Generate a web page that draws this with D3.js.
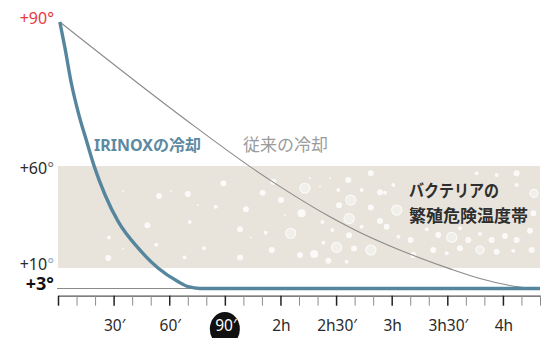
<!DOCTYPE html>
<html>
<head>
<meta charset="utf-8">
<script src="https://cdn.jsdelivr.net/npm/d3@7"></script>
<style>
  body { margin: 0; background: #fff; }
  svg { display: block; font-family: "Noto Sans", "Noto Sans CJK JP", sans-serif; }
</style>
</head>
<body>
<svg id="chart" width="542" height="338"></svg>
<script>
// time in minutes, temperature in degrees
const irinoxTime = [1, 3.8, 7, 11.3, 15.5, 19.6, 25.4, 32.5, 43.3, 54.1, 64.9, 70.3, 76.6, 120, 180, 260]
const irinoxTemp = [90, 84.5, 77.6, 70.6, 65.1, 59.7, 45.8, 32.7, 19.7, 9.9, 5.3, 3.6, 3, 3, 3, 3]

const classicTime = [1, 73.9, 103.6, 119.8, 146.7, 162.9, 179.1, 195.3, 211.5, 227.6, 243.8, 254.6]
const classicTemp = [90, 68.2, 59.7, 49.9, 35.1, 27.4, 20.8, 14.9, 9.7, 6.4, 4.0, 3]

const yTicks = [90, 60, 10, 3]
const xMajor = [30, 60, 90, 120, 150, 180, 210, 240]
const xTickLabels = ["30′", "60′", "90′", "2h", "2h30′", "3h", "3h30′", "4h"]
const highlightTick = 90

const bandRange = [10, 60]

// decorative bubbles inside the danger band: [minutes, degrees, radius, ring]
const bubbles = [
  [35.2, 47.7, 1, 0], [54.5, 45.3, 3, 0], [60.9, 47.7, 1, 0], [70, 46.3, 3, 0],
  [89.5, 51.7, 2, 0], [75.4, 40.9, 1, 0], [85.1, 40, 2, 0], [71, 32.5, 2, 0],
  [48.2, 30.9, 3, 0], [27.5, 25, 2, 0], [53, 21.4, 2, 0], [35.1, 19.5, 1, 0],
  [78.7, 19.7, 2, 0], [27.1, 14.9, 3, 0], [68.3, 15.2, 2, 0], [89.2, 51.5, 3, 0],
  [116.1, 52.3, 3, 0], [133.2, 49.1, 5, 1], [110.4, 46.9, 3, 0], [120.3, 43.3, 3, 0],
  [101.4, 38.8, 3, 0], [131.4, 36.8, 4, 0], [125.5, 27, 5, 1], [112, 27.3, 2, 0],
  [98.2, 29, 3, 0], [115.3, 18.8, 3, 0], [98.2, 15.2, 3, 0], [130.5, 16.4, 3, 0],
  [138.2, 16.9, 4, 0], [145.8, 13.6, 3, 0], [150.3, 20.1, 5, 1], [156.6, 53.1, 3, 0],
  [168.7, 56.4, 3, 0], [151.2, 48.2, 2, 0], [157.9, 43.3, 5, 1], [151.6, 40.7, 3, 0],
  [163.8, 48.2, 2, 0], [173.7, 47.1, 3, 0], [168.7, 39.6, 3, 0], [157, 34.2, 5, 1],
  [173.7, 33, 3, 0], [157, 26, 3, 0], [163.8, 30.2, 2, 0], [159.7, 19.5, 3, 0],
  [168.8, 18.8, 5, 1], [155.7, 13.1, 2, 0], [142.6, 32.5, 2, 0], [148, 28.6, 2, 0],
  [122.4, 36, 1, 0], [103.9, 25, 1, 0], [143.1, 22.4, 2, 0], [141.3, 49.9, 1, 0],
  [146.7, 54, 1, 0], [135.9, 54, 1, 0], [247.4, 56.4, 3, 0], [256.7, 46.6, 4, 1],
  [247.4, 50.7, 2, 0], [236.6, 55.6, 2, 0], [225.8, 56.4, 2, 0], [180.9, 50.7, 2, 0],
  [176.4, 46.9, 2, 0], [182.7, 38.4, 5, 1], [256.4, 36.8, 3, 0], [177.3, 30.2, 3, 0],
  [183.6, 25.3, 2, 0], [190.2, 23.7, 3, 0], [198.9, 29, 2, 0], [205.1, 26.2, 3, 0],
  [212.4, 25, 5, 1], [216.8, 29.5, 2, 0], [221.3, 23.7, 3, 0], [227.6, 26.7, 2, 0],
  [233.9, 23.7, 3, 0], [241.1, 25.7, 3, 0], [247.4, 23.7, 3, 0], [254.6, 28.3, 3, 0],
  [202.4, 18.8, 3, 0], [209.7, 17.2, 2, 0], [216.8, 19.7, 3, 0], [227.6, 18.8, 4, 1],
  [236.6, 18, 3, 0], [245.6, 18.5, 2, 0], [255.5, 18.8, 3, 0], [191.6, 16.4, 3, 0]
]

const svg = d3.select("#chart")

const x = d3.scaleLinear().domain([0, 260]).range([58, 540])
// the temperature axis is stretched differently above and below +60
const y = d3.scaleLinear().domain([3, 10, 60, 90]).range([288.5, 268, 166, 22])

// danger band
svg.append("rect")
  .attr("x", x(0))
  .attr("y", y(bandRange[1]))
  .attr("width", x(260) - x(0))
  .attr("height", y(bandRange[0]) - y(bandRange[1]))
  .attr("fill", "#e8e4db")

svg.append("g")
  .selectAll("circle")
  .data(bubbles)
  .join("circle")
  .attr("cx", d => x(d[0]))
  .attr("cy", d => y(d[1]))
  .attr("r", d => d[2])
  .attr("fill", d => d[3] ? "#f1efea" : "#ffffff")
  .attr("fill-opacity", d => d[3] ? 1 : 0.8)
  .attr("stroke", d => d[3] ? "#fbfaf8" : "none")
  .attr("stroke-width", 1.2)

// +3 reference line
svg.append("line")
  .attr("x1", x(0) - 1).attr("x2", x(260))
  .attr("y1", y(3)).attr("y2", y(3))
  .attr("stroke", "#8a8a8a")
  .attr("stroke-width", 1.2)

// x axis
const xAxis = d3.axisBottom(x)
  .tickValues(d3.range(0, 261, 10))
  .tickSize(10)
  .tickSizeOuter(0)
  .tickFormat("")

const gx = svg.append("g")
  .attr("transform", `translate(0, ${y(3) + 7.2})`)
  .call(xAxis)

gx.select(".domain").attr("stroke", "#555").attr("stroke-width", 1.3)
gx.selectAll(".tick line")
  .attr("stroke", d => d % 30 === 0 ? "#222" : "#8c8c8c")
  .attr("stroke-width", d => d % 30 === 0 ? 1.5 : 1)

// tick labels
const labelY = 331
svg.append("ellipse")
  .attr("cx", x(highlightTick))
  .attr("cy", 329)
  .attr("rx", 15)
  .attr("ry", 17)
  .attr("fill", "#111")

svg.append("g")
  .selectAll("text")
  .data(xMajor)
  .join("text")
  .attr("x", d => x(d) + 1)
  .attr("y", labelY)
  .attr("text-anchor", "middle")
  .style("font-size", "15.5px")
  .attr("fill", d => d === highlightTick ? "#fff" : "#2b2b2b")
  .text((d, i) => xTickLabels[i])

// y labels
const yLabelStyle = {
  90: { color: "#e8383d", deg: "#e8383d", nudge: 2, weight: 400, size: 16 },
  60: { color: "#2b2b2b", deg: "#777", nudge: 8, weight: 400, size: 16 },
  10: { color: "#2b2b2b", deg: "#8fb0c8", nudge: 1.5, weight: 400, size: 16 },
  3: { color: "#111", deg: "#111", nudge: 1.5, weight: 700, size: 18 }
}

const yl = svg.append("g")
  .selectAll("text")
  .data(yTicks)
  .join("text")
  .attr("x", 54)
  .attr("y", d => y(d) + yLabelStyle[d].nudge)
  .attr("text-anchor", "end")
  .style("font-size", d => yLabelStyle[d].size + "px")
  .style("font-weight", d => yLabelStyle[d].weight)
  .attr("fill", d => yLabelStyle[d].color)

yl.append("tspan").text(d => "+" + d)
yl.append("tspan")
  .attr("fill", d => yLabelStyle[d].deg)
  .text("°")

// cooling curves
const line = d3.line()
  .x(d => x(d[0]))
  .y(d => y(d[1]))
  .curve(d3.curveMonotoneX)

svg.append("path")
  .datum(d3.zip(classicTime, classicTemp))
  .attr("d", line)
  .attr("fill", "none")
  .attr("stroke", "#8a8a8a")
  .attr("stroke-width", 1.1)

svg.append("path")
  .datum(d3.zip(irinoxTime, irinoxTemp))
  .attr("d", line)
  .attr("fill", "none")
  .attr("stroke", "#55869e")
  .attr("stroke-width", 3.4)
  .attr("stroke-linejoin", "round")

// annotations
svg.append("text")
  .attr("x", 94).attr("y", 151)
  .style("font-size", "16px")
  .style("font-weight", 700)
  .attr("fill", "#5b8aa2")
  .text("IRINOXの冷却")

svg.append("text")
  .attr("x", 243).attr("y", 151)
  .style("font-size", "17px")
  .attr("fill", "#9b9b9b")
  .text("従来の冷却")

svg.append("text")
  .attr("x", 409).attr("y", 197)
  .style("font-size", "17px")
  .style("font-weight", 700)
  .attr("fill", "#2e2e2e")
  .attr("textLength", 90)
  .attr("lengthAdjust", "spacingAndGlyphs")
  .text("バクテリアの")

svg.append("text")
  .attr("x", 409).attr("y", 222)
  .style("font-size", "17px")
  .style("font-weight", 700)
  .attr("fill", "#2e2e2e")
  .text("繁殖危険温度帯")
</script>
</body>
</html>
